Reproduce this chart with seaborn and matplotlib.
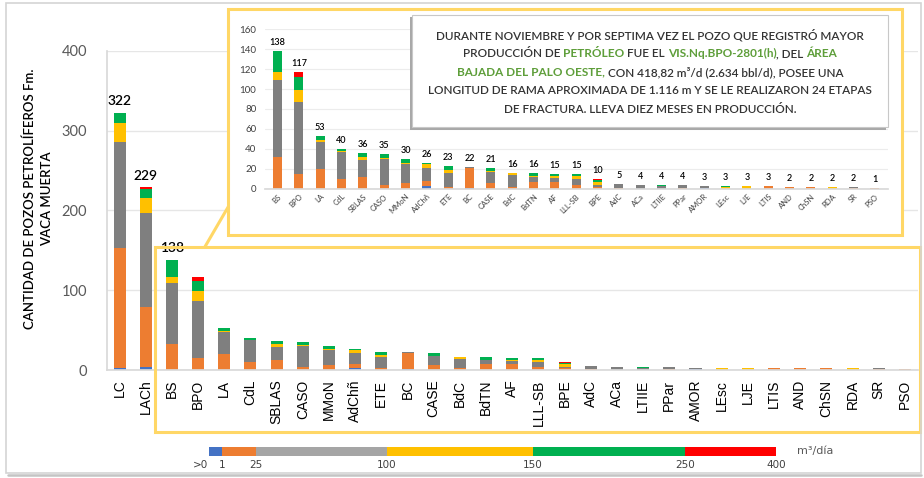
import numpy as np
import pandas as pd
import seaborn as sns
import matplotlib.pyplot as plt
from matplotlib.patches import Rectangle
from matplotlib.lines import Line2D

W, H = 924, 478

# pozos por area y rango de produccion (m3/dia)
pozos = ["LC", "LACh", "BS", "BPO", "LA", "CdL", "SBLAS", "CASO", "MMoN", "AdChñ", "ETE",
         "BC", "CASE", "BdC", "BdTN", "AF", "LLL-SB", "BPE", "AdC", "ACa", "LTIIE", "PPar",
         "AMOR", "LEsc", "LJE", "LTIS", "AND", "ChSN", "RDA", "SR", "PSO"]
r_0_1 = [2, 4, 0, 0, 0, 0, 0, 0, 0, 3, 0, 1, 0, 0, 0, 0, 0, 0, 0, 0, 0, 0, 1, 0, 0, 0, 0, 0, 0, 0, 0]
r_1_25 = [151, 75, 32, 15, 20, 10, 12, 4, 6, 5, 2, 20, 6, 2, 7, 7, 4, 2, 1, 0, 0, 1, 0, 0, 0, 3, 2, 2, 0, 1, 1]
r_25_100 = [133, 118, 77, 72, 27, 27, 17, 26, 19, 13, 14, 1, 11, 12, 5, 4, 6, 2, 4, 4, 3, 3, 2, 0, 0, 0, 0, 0, 0, 1, 0]
r_100_150 = [23, 18, 8, 12, 2, 1, 3, 1, 1, 4, 3, 0, 1, 2, 1, 2, 3, 3, 0, 0, 0, 0, 0, 2, 3, 0, 0, 0, 2, 0, 0]
r_150_250 = [13, 12, 21, 13, 4, 2, 4, 4, 4, 1, 4, 0, 3, 0, 3, 2, 2, 2, 0, 0, 1, 0, 0, 1, 0, 0, 0, 0, 0, 0, 0]
r_250_400 = [0, 2, 0, 5, 0, 0, 0, 0, 0, 0, 0, 0, 0, 0, 0, 0, 0, 1, 0, 0, 0, 0, 0, 0, 0, 0, 0, 0, 0, 0, 0]

rangos = ["0-1", "1-25", "25-100", "100-150", "150-250", "250-400"]
colores = ["#4472C4", "#ED7D31", "#7F7F7F", "#FFC000", "#00B050", "#FF0000"]
colores_ley = ["#4472C4", "#ED7D31", "#A5A5A5", "#FFC000", "#00B050", "#FF0000"]
ley_etiquetas = [">0", "1", "25", "100", "150", "250", "400"]
ley_pos = [0, 0.022, 0.082, 0.313, 0.571, 0.840, 1.0]

df = pd.DataFrame({"pozo": pozos, "0-1": r_0_1, "1-25": r_1_25, "25-100": r_25_100,
                   "100-150": r_100_150, "150-250": r_150_250, "250-400": r_250_400})
df["total"] = df[rangos].sum(axis=1)

AMARILLO = "#FFD766"
VERDE = "#5E9E3A"
GRIS_TXT = "#404040"


def fx(px):
    return px / W


def fy(py):
    return 1 - py / H


def caja(x0, y0, x1, y1):
    return [fx(x0), fy(y1), (x1 - x0) / W, (y1 - y0) / H]


def apilado(ax, data, ancho):
    # barras acumuladas dibujadas de arriba hacia abajo
    for i in range(len(rangos) - 1, -1, -1):
        d = pd.DataFrame({"pozo": data["pozo"], "n": data[rangos[:i + 1]].sum(axis=1)})
        sns.barplot(data=d, x="pozo", y="n", color=colores[i], width=ancho, saturation=1,
                    errorbar=None, linewidth=0, ax=ax)
    ax.set_xlabel("")
    ax.set_ylabel("")


sns.set_theme(style="white")
plt.rcParams["font.family"] = ["Lato", "DejaVu Sans"]

fig = plt.figure(figsize=(W / 100, H / 100), dpi=100)
fig.patch.set_facecolor("white")

# grafico principal
ax = fig.add_axes(caja(106.5, 50.7, 918, 370))
apilado(ax, df, 0.46)
ax.set_xlim(-0.5, len(pozos) - 0.5)
ax.set_ylim(0, 400)
ax.set_yticks([0, 100, 200, 300, 400])
ax.yaxis.grid(True, color="#e6e6e6", lw=1)
ax.set_axisbelow(True)
ax.tick_params(axis="x", rotation=90, labelsize=10, length=0, pad=7, labelcolor="black")
ax.tick_params(axis="y", labelsize=10.5, length=0, pad=14, labelcolor="#595959")
for lab in ax.get_xticklabels():
    lab.set_fontfamily("Liberation Sans")
for s in ["top", "right"]:
    ax.spines[s].set_visible(False)
for s in ["left", "bottom"]:
    ax.spines[s].set_color("#d9d9d9")
for i in range(3):
    ax.annotate(str(df["total"][i]), (i, df["total"][i]), xytext=(0, 4), textcoords="offset points",
                ha="center", va="bottom", fontsize=10, fontweight="semibold", color="black")

fig.text(fx(38.5), fy(199), "CANTIDAD DE POZOS PETROLÍFEROS Fm.\nVACA MUERTA", rotation=90,
         ha="center", va="center", multialignment="center", fontsize=9.5, linespacing=1.45,
         color="black", fontweight="semibold")

# recuadros de zoom
fig.add_artist(Rectangle((fx(228.3), fy(235)), (902 - 228.3) / W, (235 - 9) / H,
                         transform=fig.transFigure, facecolor="white", edgecolor=AMARILLO,
                         lw=2.2, zorder=1.5))
fig.add_artist(Rectangle((fx(155), fy(432)), (920 - 155) / W, (432 - 246.7) / H,
                         transform=fig.transFigure, facecolor="none", edgecolor=AMARILLO,
                         lw=2.2, zorder=1.6))
fig.add_artist(Line2D([fx(205), fx(228.3)], [fy(246.7), fy(206.7)], transform=fig.transFigure,
                      color=AMARILLO, lw=2.2, zorder=1.6))

# detalle
ax2 = fig.add_axes(caja(264.7, 29.3, 887.7, 188.7), zorder=2)
ax2.patch.set_alpha(0)
det = df.iloc[2:].reset_index(drop=True)
apilado(ax2, det, 0.42)
ax2.set_xlim(-0.6, len(det) - 0.4)
ax2.set_ylim(0, 160)
ax2.set_yticks(range(0, 161, 20))
ax2.yaxis.grid(True, color="#ececec", lw=0.8)
ax2.set_axisbelow(True)
ax2.tick_params(axis="y", labelsize=7, length=0, pad=6, labelcolor=GRIS_TXT)
ax2.tick_params(axis="x", labelsize=5.5, length=0, pad=3, labelcolor=GRIS_TXT)
plt.setp(ax2.get_xticklabels(), rotation=45, ha="right", rotation_mode="anchor")
for s in ["top", "right", "left"]:
    ax2.spines[s].set_visible(False)
ax2.spines["bottom"].set_color("#d9d9d9")
for i, v in enumerate(det["total"]):
    ax2.annotate(str(v), (i, v), xytext=(0, 3), textcoords="offset points", ha="center",
                 va="bottom", fontsize=6.5, fontweight="semibold", color="black")

# cuadro de texto
fig.add_artist(Rectangle((fx(409.5), fy(129.5)), (886 - 409.5) / W, (129.5 - 17) / H,
                         transform=fig.transFigure, facecolor="#a8a8a8", edgecolor="none", zorder=3))
fig.add_artist(Rectangle((fx(411.7), fy(127)), (888 - 411.7) / W, (127 - 15) / H,
                         transform=fig.transFigure, facecolor="white", edgecolor="#c8c8c8",
                         lw=0.8, zorder=3.1))

renderer = fig.canvas.get_renderer()


def medir(s, size, verde):
    t = fig.text(0, 0, s, fontsize=size, fontweight="bold" if verde else "semibold")
    w = t.get_window_extent(renderer).width
    t.remove()
    return w


def avance(s, size, verde):
    return medir("I" + s + "I", size, verde) - medir("II", size, verde)


lineas = [
    [("DURANTE NOVIEMBRE Y POR SEPTIMA VEZ EL POZO QUE REGISTRÓ MAYOR", False)],
    [("PRODUCCIÓN DE ", False), ("PETRÓLEO ", True), ("FUE EL ", False),
     ("VIS.Nq.BPO-2801(h)", True), (", DEL ", False), ("ÁREA", True)],
    [("BAJADA DEL PALO OESTE, ", True), ("CON 418,82 m³/d (2.634 bbl/d), POSEE UNA", False)],
    [("LONGITUD DE RAMA APROXIMADA DE 1.116 m Y SE LE REALIZARON 24 ETAPAS", False)],
    [("DE FRACTURA. LLEVA DIEZ MESES EN PRODUCCIÓN.", False)],
]
tam = 10 * 446 / avance(lineas[3][0][0], 10, False)
cx = 650
for k, partes in enumerate(lineas):
    anchos = [avance(t, tam, v) for t, v in partes]
    x = cx - sum(anchos) / 2
    for (t, v), a in zip(partes, anchos):
        fig.text(fx(x), fy(35 + 18.6 * k), t, fontsize=tam, ha="left", va="center",
                 fontweight="bold" if v else "semibold", color=VERDE if v else "#333333", zorder=5)
        x += a

# escala de colores
axl = fig.add_axes(caja(209.3, 446.7, 776, 456))
axl.barh(0, np.diff(ley_pos), left=ley_pos[:-1], color=colores_ley, height=1, linewidth=0)
axl.set_xlim(0, 1)
axl.set_ylim(-0.5, 0.5)
axl.axis("off")
for lab, p in zip(ley_etiquetas, ley_pos):
    xp = 209.3 + p * (776 - 209.3)
    if lab == ">0":
        fig.text(fx(xp - 1), fy(465), lab, ha="right", va="center", fontsize=7.5,
                 family="DejaVu Sans", color=GRIS_TXT)
    else:
        fig.text(fx(xp), fy(465), lab, ha="center", va="center", fontsize=7.5,
                 family="DejaVu Sans", color=GRIS_TXT)
fig.text(fx(797), fy(451), "m³/día", ha="left", va="center", fontsize=8, family="DejaVu Sans",
         color="#595959")

# marco
fig.add_artist(Rectangle((fx(6), fy(473)), (921 - 6) / W, (473 - 3) / H, transform=fig.transFigure,
                         facecolor="none", edgecolor="#d4d4d4", lw=1.2, zorder=6))
fig.add_artist(Line2D([fx(8), fx(921)], [fy(474.5), fy(474.5)], transform=fig.transFigure,
                      color="#c4c4c4", lw=1.8, zorder=6))

fig.savefig("out.png", dpi=100, facecolor="white")
